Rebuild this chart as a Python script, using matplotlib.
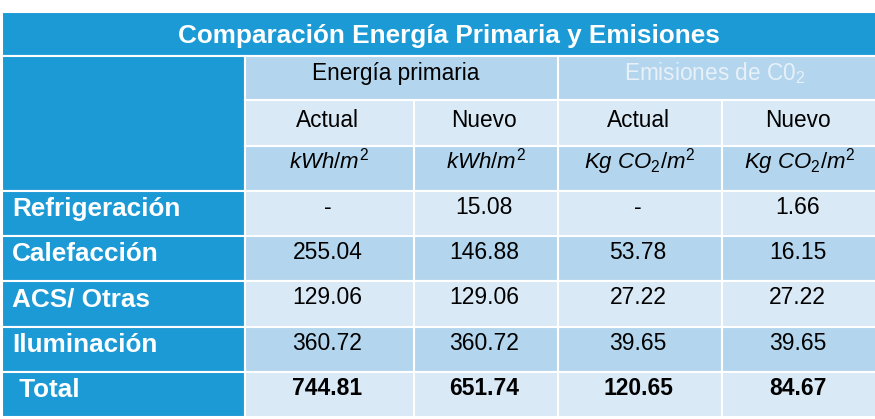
import matplotlib
matplotlib.use('Agg')
import matplotlib.pyplot as plt
from matplotlib.patches import Rectangle
from matplotlib import font_manager

# datos de la tabla
titulo = 'Comparación Energía Primaria y Emisiones'
grupos = ['Energía primaria', 'Emisiones de C0$_2$']
subcols = ['Actual', 'Nuevo', 'Actual', 'Nuevo']
unidades = [r'$kWh/m^2$', r'$kWh/m^2$', r'$Kg\ CO_2/m^2$', r'$Kg\ CO_2/m^2$']
categorias = ['Refrigeración', 'Calefacción', 'ACS/ Otras', 'Iluminación', ' Total']
ep_actual = [None, 255.04, 129.06, 360.72, 744.81]
ep_nuevo = [15.08, 146.88, 129.06, 360.72, 651.74]
em_actual = [None, 53.78, 27.22, 39.65, 120.65]
em_nuevo = [1.66, 16.15, 27.22, 39.65, 84.67]

# geometria (pixeles)
col_x = [2, 245, 414, 558, 722, 877]
row_y = [12, 56, 100, 146, 191, 236, 281, 327, 372, 417]

oscuro = '#1c9ad6'
medio = '#b3d6ee'
claro = '#d9e9f6'

try:
    font_manager.findfont('Liberation Sans Narrow', fallback_to_default=False)
    narrow = 'Liberation Sans Narrow'
    nsize = 17.5
except Exception:
    narrow = 'Liberation Sans'
    nsize = 16.3

plt.rcParams['font.family'] = 'Liberation Sans'
plt.rcParams['mathtext.fontset'] = 'custom'
plt.rcParams['mathtext.it'] = 'Liberation Sans:italic'
plt.rcParams['mathtext.rm'] = 'Liberation Sans'

fig = plt.figure(figsize=(8.75, 4.19), dpi=100)
ax = fig.add_axes([0, 0, 1, 1])
ax.set_xlim(0, 875)
ax.set_ylim(419, 0)
ax.axis('off')

def celda(x0, x1, y0, y1, color):
    ax.add_patch(Rectangle((x0, y0), x1 - x0, y1 - y0, facecolor=color,
                           edgecolor='white', lw=1.5))

# titulo
celda(col_x[0], col_x[-1], row_y[0], row_y[1], oscuro)
ax.text(449, row_y[0] + 31, titulo, ha='center', va='baseline', color='white',
        fontsize=18.8, fontweight='bold')

# esquina
celda(col_x[0], col_x[1], row_y[1], row_y[4], oscuro)

# grupos
celda(col_x[1], col_x[3], row_y[1], row_y[2], medio)
celda(col_x[3], col_x[5], row_y[1], row_y[2], medio)
ax.text(396, row_y[1] + 24, grupos[0], ha='center', va='baseline',
        fontsize=nsize, family=narrow, color='black')
ax.text(715, row_y[1] + 24, grupos[1], ha='center', va='baseline',
        fontsize=nsize, family=narrow, color='#e8f0f8')

for j in range(4):
    cx = (col_x[j + 1] + col_x[j + 2]) / 2
    celda(col_x[j + 1], col_x[j + 2], row_y[2], row_y[3], claro)
    celda(col_x[j + 1], col_x[j + 2], row_y[3], row_y[4], medio)
    ax.text(cx - 2, row_y[2] + 27, subcols[j], ha='center', va='baseline',
            fontsize=nsize, family=narrow)
    ax.text(cx, row_y[3] + 22, unidades[j], ha='center', va='baseline',
            fontsize=16)

columnas = [ep_actual, ep_nuevo, em_actual, em_nuevo]
for i, cat in enumerate(categorias):
    y0, y1 = row_y[i + 4], row_y[i + 5]
    color = claro if i % 2 == 0 else medio
    total = i == len(categorias) - 1
    celda(col_x[0], col_x[1], y0, y1, oscuro)
    ax.text(12, y0 + 25, cat, ha='left', va='baseline', color='white',
            fontsize=18.8, fontweight='bold')
    for j, col in enumerate(columnas):
        celda(col_x[j + 1], col_x[j + 2], y0, y1, color)
        v = col[i]
        s = '-' if v is None else f'{v:.2f}'
        ax.text((col_x[j + 1] + col_x[j + 2]) / 2 - 2, y0 + 23, s,
                ha='center', va='baseline', fontsize=16.5,
                fontweight='bold' if total else 'normal')

fig.savefig('out.png', dpi=100)
